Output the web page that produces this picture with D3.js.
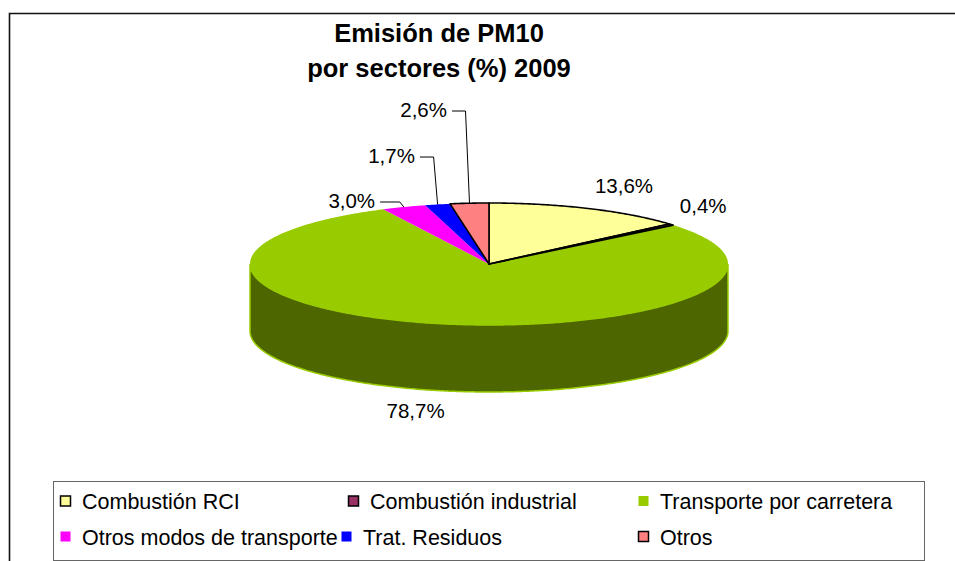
<!DOCTYPE html>
<html>
<head>
<meta charset="utf-8">
<script src="https://cdn.jsdelivr.net/npm/d3@7"></script>
<style>
  html, body { margin: 0; padding: 0; background: #fff; }
  svg { display: block; font-family: "Liberation Sans", Arial, sans-serif; }
</style>
</head>
<body>
<svg id="chart" width="955" height="561"></svg>
<script>
// ---- data ----
const categories = ["Combustión RCI", "Combustión industrial", "Transporte por carretera",
                    "Otros modos de transporte", "Trat. Residuos", "Otros"];
const values = [13.6, 0.4, 78.7, 3.0, 1.7, 2.6];
const colors = ["#FFFF99", "#993366", "#99CC00", "#FF00FF", "#0000FF", "#FF8080"];
const outlined = [true, true, false, false, false, true];
const titleLines = ["Emisión de PM10", "por sectores (%) 2009"];

// ---- layout ----
const W = 955, H = 561;
const cx = 489, cy = 264, rx = 239, ry = 61, depth = 67;
// label placement relative to the slice edge anchor
const labelLayout = [
  {dx: 36, dy: -15.5, anchor: "middle", leader: false},
  {dx: 32, dy: -11.5, anchor: "middle", leader: false},
  {dx: -23.5, dy: 27, anchor: "middle", leader: false},
  {dx: -28.7, dy: 1, anchor: "end", leader: true},
  {dx: -22.7, dy: -41.4, anchor: "end", leader: true},
  {dx: -22.5, dy: -86.2, anchor: "end", leader: true}
];

const svg = d3.select("#chart");

// outer chart border (continues past the right and bottom edges)
svg.append("path")
  .attr("d", `M9.5,${H + 2} L9.5,13.5 L${W + 2},13.5`)
  .attr("fill", "none").attr("stroke", "#111").attr("stroke-width", 1.6);

// title
const title = svg.append("text")
  .attr("text-anchor", "middle")
  .attr("font-weight", "bold")
  .attr("font-size", 25.5)
  .attr("fill", "#000");
titleLines.forEach((t, i) => {
  title.append("tspan").attr("x", 439).attr("y", 42 + i * 35).text(t);
});

// pie geometry
const pie = d3.pie().sort(null).value(d => d)(values);
const px = a => cx + rx * Math.sin(a);
const py = a => cy - ry * Math.cos(a);
const sample = (a0, a1) => {
  const n = Math.max(2, Math.ceil((a1 - a0) / 0.01));
  return d3.range(n + 1).map(i => a0 + (a1 - a0) * i / n);
};
const line = d3.line();

function topPath(d) {
  const pts = [[cx, cy]].concat(sample(d.startAngle, d.endAngle).map(a => [px(a), py(a)]));
  return line(pts) + "Z";
}
function sidePath(d) {
  const a0 = Math.max(d.startAngle, Math.PI / 2);
  const a1 = Math.min(d.endAngle, 3 * Math.PI / 2);
  if (a1 <= a0) return null;
  const angs = sample(a0, a1);
  const pts = angs.map(a => [px(a), py(a)])
    .concat(angs.slice().reverse().map(a => [px(a), py(a) + depth]));
  return line(pts) + "Z";
}

const darker = c => { const k = d3.rgb(c); return d3.rgb(k.r * 0.5, k.g * 0.5, k.b * 0.5).formatHex(); };

// sides
const gSide = svg.append("g");
pie.forEach((d, i) => {
  const p = sidePath(d);
  if (p) gSide.append("path").attr("d", p)
    .attr("fill", darker(colors[i]))
    .attr("stroke", colors[i]).attr("stroke-width", 1.5);
});

// tops: unoutlined first, outlined on top
const gTop = svg.append("g");
const order = d3.range(pie.length).sort((a, b) => (outlined[a] ? 1 : 0) - (outlined[b] ? 1 : 0));
order.forEach(i => {
  const d = pie[i];
  gTop.append("path").attr("d", topPath(d))
    .attr("fill", colors[i])
    .attr("stroke", outlined[i] ? "#000" : "none")
    .attr("stroke-width", 1.6)
    .attr("stroke-linejoin", "round");
});

// labels
const fmt = v => d3.format(".1f")(v).replace(".", ",") + "%";
const gLab = svg.append("g").attr("font-size", 20.5).attr("fill", "#000");
pie.forEach((d, i) => {
  const m = (d.startAngle + d.endAngle) / 2;
  const front = Math.cos(m) < 0;
  const ax = px(m), ay = py(m) + (front ? depth : 0);
  const L = labelLayout[i];
  const tx = ax + L.dx, ty = ay + L.dy;
  gLab.append("text").attr("x", tx).attr("y", ty)
    .attr("text-anchor", L.anchor).text(fmt(values[i]));
  if (L.leader) {
    const lx = tx + 5, ly = ty - 6;
    const pts = [[lx, ly], [ax - 4, ly], [ax, ay]];
    svg.append("path").attr("d", line(pts))
      .attr("fill", "none").attr("stroke", "#000").attr("stroke-width", 1);
  }
});

// legend
const legX0 = 53.5, legY0 = 481.5, legX1 = 924.5, legY1 = 560.5;
svg.append("rect").attr("x", legX0).attr("y", legY0)
  .attr("width", legX1 - legX0).attr("height", legY1 - legY0)
  .attr("fill", "#fff").attr("stroke", "#666").attr("stroke-width", 1);
const colX = [60, 348, 638];
const rowY = [501.5, 537];
const gLeg = svg.append("g").attr("font-size", 21.5).attr("fill", "#000");
categories.forEach((c, i) => {
  const r = Math.floor(i / 3), k = i % 3;
  const x = colX[k] - (r === 1 && k === 1 ? 7 : 0);
  const y = rowY[r];
  gLeg.append("rect").attr("x", x + 0.5).attr("y", y - 5.5)
    .attr("width", 10).attr("height", 10)
    .attr("fill", colors[i])
    .attr("stroke", outlined[i] ? "#000" : "none").attr("stroke-width", 1.5);
  gLeg.append("text").attr("x", x + 22).attr("y", y + 7.5).text(c);
});
</script>
</body>
</html>
